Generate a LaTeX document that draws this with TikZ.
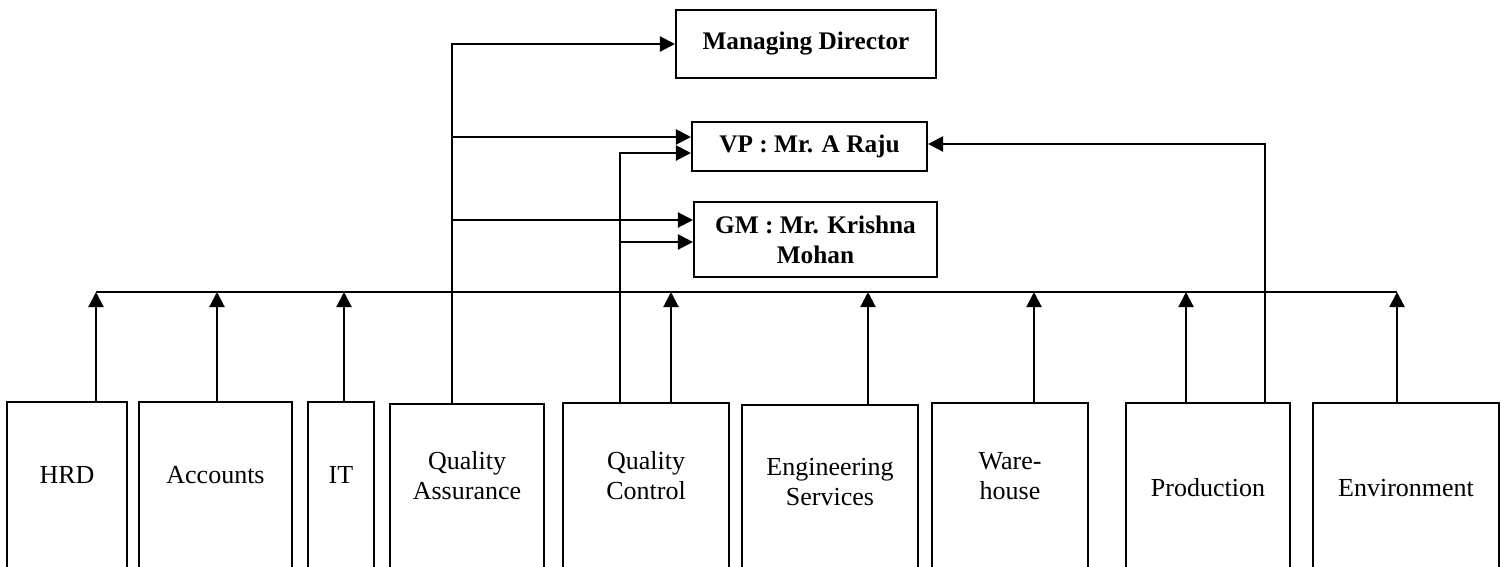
\documentclass[tikz,border=0pt]{standalone}
\usepackage{fontspec}
\setmainfont{Liberation Serif}
\usetikzlibrary{arrows.meta, positioning}

\tikzset{
    post/.style={draw, inner sep=0pt, align=center, font=\fontsize{14.4}{17}\selectfont\bfseries},
    dept/.style={draw, anchor=north, inner sep=0pt, minimum height=4.4cm},
    deptlabel/.style={align=center, inner sep=0pt}
}

\begin{document}
\begin{tikzpicture}[
    x=0.02cm, y=-0.02cm,
    line width=1.2pt,
    every node/.style={font=\fontsize{14.8}{17}\selectfont},
    >={Triangle[length=0.3cm, width=0.3cm]}
]
\useasboundingbox (0,0) rectangle (1507,566);
\clip (0,0) rectangle (1507,566);

% Top posts
\node[post, minimum width=5.2cm, minimum height=1.36cm] (md) at (806,44) {Managing Director};
\node[post, minimum width=4.7cm, minimum height=0.98cm] (vp) at (809.5,146.5) {VP : Mr. A Raju};
\node[post, minimum width=4.86cm, minimum height=1.5cm] (gm) at (815.5,239.5) {GM : Mr. Krishna\\Mohan};

% Departments along the bottom
\node[dept, minimum width=2.4cm] (hrd) at (67,401) {};
\node[dept, minimum width=3.06cm] (acc) at (215.5,401) {};
\node[dept, minimum width=1.32cm] (it) at (341,401) {};
\node[dept, minimum width=3.08cm] (qa) at (467,403) {};
\node[dept, minimum width=3.32cm] (qc) at (646,402) {};
\node[dept, minimum width=3.52cm] (eng) at (830,404) {};
\node[dept, minimum width=3.12cm] (wh) at (1010,402) {};
\node[dept, minimum width=3.28cm] (prod) at (1208,402) {};
\node[dept, minimum width=3.72cm] (env) at (1406,402) {};

\node[deptlabel] (hrdtxt) at ([yshift=-1.48cm]hrd.north) {HRD};
\node[deptlabel] (acctxt) at ([yshift=-1.48cm]acc.north) {Accounts};
\node[deptlabel] (ittxt) at ([yshift=-1.48cm]it.north) {IT};
\node[deptlabel] (qatxt) at ([yshift=-1.46cm]qa.north) {Quality\\Assurance};
\node[deptlabel] (qctxt) at ([yshift=-1.48cm]qc.north) {Quality\\Control};
\node[deptlabel] (engtxt) at ([yshift=-1.56cm]eng.north) {Engineering\\Services};
\node[deptlabel] (whtxt) at ([yshift=-1.48cm]wh.north) {Ware-\\house};
\node[deptlabel] (prodtxt) at ([yshift=-1.72cm]prod.north) {Production};
\node[deptlabel] (envtxt) at ([yshift=-1.72cm]env.north) {Environment};

% Bus line
\coordinate (bus) at (0,292);
\draw ([xshift=0.58cm]hrd.north |- bus) -- ([xshift=-0.18cm]env.north |- bus);
\foreach \d/\s in {hrd/0.58, acc/0.03, it/0.06, qc/0.5, eng/0.76, wh/0.48, prod/-0.44, env/-0.18}
    \draw[->] ([xshift=\s cm]\d.north) -- ([xshift=\s cm]\d.north |- bus);

% Reporting lines to the top
\coordinate (vpA) at ([yshift=0.19cm]vp.west);
\coordinate (vpB) at ([yshift=-0.13cm]vp.west);
\coordinate (gmA) at ([yshift=0.39cm]gm.west);
\coordinate (gmB) at ([yshift=-0.05cm]gm.west);
\coordinate (qaup) at ([xshift=-0.3cm]qa.north);
\coordinate (qcup) at ([xshift=-0.52cm]qc.north);

\draw[->] (qaup) |- (md.west);
\draw[->] (qaup |- vpA) -- (vpA);
\draw[->] (qaup |- gmA) -- (gmA);
\draw[->] (qcup) |- (vpB);
\draw[->] (qcup |- gmB) -- (gmB);
\draw[->] ([xshift=1.14cm]prod.north) |- ([yshift=0.05cm]vp.east);
\end{tikzpicture}
\end{document}
